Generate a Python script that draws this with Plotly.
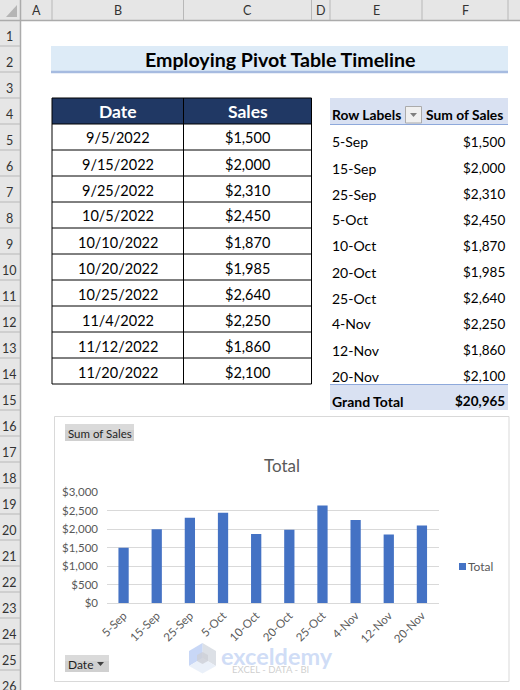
import plotly.graph_objects as go

W, H = 520, 690

dates = ["9/5/2022", "9/15/2022", "9/25/2022", "10/5/2022", "10/10/2022",
         "10/20/2022", "10/25/2022", "11/4/2022", "11/12/2022", "11/20/2022"]
row_labels = ["5-Sep", "15-Sep", "25-Sep", "5-Oct", "10-Oct",
              "20-Oct", "25-Oct", "4-Nov", "12-Nov", "20-Nov"]
sales = [1500, 2000, 2310, 2450, 1870, 1985, 2640, 2250, 1860, 2100]
grand_total = 20965
y_ticks = [0, 500, 1000, 1500, 2000, 2500, 3000]

col_names = ["A", "B", "C", "D", "E", "F"]
col_edges = [20, 52, 183.5, 311.5, 330, 422, 508]
row_h = 26
row_top = 20

FONT = "Lato, Carlito, Calibri, sans-serif"
GREY_TXT = "#595959"

shapes = []
notes = []


def fx(px):
    return px / W


def fy(px):
    return 1 - px / H


def rect(x0, y0, x1, y1, fill=None, line=None, width=1, layer="below"):
    shapes.append(dict(
        type="rect", xref="paper", yref="paper",
        x0=fx(x0), x1=fx(x1), y0=fy(y0), y1=fy(y1),
        fillcolor=fill or "rgba(0,0,0,0)",
        line=dict(color=line or "rgba(0,0,0,0)", width=width if line else 0),
        layer=layer,
    ))


def seg(x0, y0, x1, y1, color, width=1, layer="below"):
    shapes.append(dict(
        type="line", xref="paper", yref="paper",
        x0=fx(x0), x1=fx(x1), y0=fy(y0), y1=fy(y1),
        line=dict(color=color, width=width), layer=layer,
    ))


def poly(points, fill, layer="below"):
    path = "M " + " L ".join(f"{fx(a):.5f},{fy(b):.5f}" for a, b in points) + " Z"
    shapes.append(dict(
        type="path", xref="paper", yref="paper", path=path,
        fillcolor=fill, line=dict(width=0), layer=layer,
    ))


def text(x, y, s, size=14, color="#000000", bold=False, anchor="center", family=FONT):
    # annotations carry a little padding, so pull edge-aligned text back onto x
    if anchor == "left":
        x -= 3
    elif anchor == "right":
        x += 2
    notes.append(dict(
        xref="paper", yref="paper", x=fx(x), y=fy(y),
        text=f"<b>{s}</b>" if bold else s,
        showarrow=False, xanchor=anchor, yanchor="middle",
        font=dict(family=family, size=size, color=color),
    ))


# sheet headers
rect(0, 0, W, row_top, fill="#E6E6E6")
rect(0, 0, row_top, H, fill="#E6E6E6")
seg(0, 20.5, W, 20.5, "#ABABAB", 1.5)
seg(20.5, 0, 20.5, H, "#ABABAB", 1.5)
poly([(17, 5), (17, 17), (6, 17)], "#B5B5B5")
for i, name in enumerate(col_names):
    text((col_edges[i] + col_edges[i + 1]) / 2, 10.5, name, size=12.5, color="#333333")
    seg(col_edges[i + 1], 0, col_edges[i + 1], 20, "#B8B8B8")
for r in range(1, 27):
    top = row_top + (r - 1) * row_h
    text(9, top + 16.5, str(r), size=12.5, color="#333333")
    seg(0, top + row_h, 20, top + row_h, "#B8B8B8")

# title band
rect(51, 46, 508, 71, fill="#DDEBF7")
seg(51, 72, 508, 72, "#A6BBE0", 2.5)
text(279.5, 59.5, "Employing Pivot Table Timeline", size=19.6, bold=True)

# source table
t_left, t_mid, t_right = col_edges[1], col_edges[2], col_edges[3]
rect(t_left, 98, t_right, 124, fill="#203864")
text((t_left + t_mid) / 2, 112, "Date", size=17.5, color="#FFFFFF", bold=True)
text((t_mid + t_right) / 2, 112, "Sales", size=17.5, color="#FFFFFF", bold=True)
for i, (d, v) in enumerate(zip(dates, sales)):
    mid_y = 138 + i * row_h
    text((t_left + t_mid) / 2, mid_y, d, size=14.5)
    text((t_mid + t_right) / 2, mid_y, f"${v:,}", size=14.5)
for i in range(12):
    seg(t_left, 98 + i * row_h, t_right, 98 + i * row_h, "#000000")
for x in (t_left, t_mid, t_right):
    seg(x, 98, x, 384, "#000000")

# pivot table
rect(330, 98, 508, 124, fill="#D9E1F2")
seg(330, 124.5, 508, 124.5, "#8EA9DB")
text(333, 115, "Row Labels", size=13.8, bold=True, anchor="left")
text(503, 115, "Sum of Sales", size=13.8, bold=True, anchor="right")
rect(405.5, 106.5, 421.5, 123, fill="#F0F0F0", line="#ABABAB")
poly([(410, 113), (417, 113), (413.5, 117)], "#7F7F7F")
for i, (lab, v) in enumerate(zip(row_labels, sales)):
    mid_y = 142 + i * row_h
    text(333, mid_y, lab, size=14, anchor="left")
    text(505, mid_y, f"${v:,}", size=13.5, anchor="right")
rect(330, 384, 508, 410, fill="#D9E1F2")
seg(330, 384.5, 508, 384.5, "#8EA9DB")
text(333, 401, "Grand Total", size=14, bold=True, anchor="left")
text(505, 401, f"${grand_total:,}", size=13.5, bold=True, anchor="right")

# chart frame and field buttons
rect(54.5, 416.5, 509, 681.5, fill="#FFFFFF", line="#D9D9D9")
rect(65, 424, 134, 441, fill="#D0D0D0")
rect(65, 424, 134, 430, fill="#DADADA")
text(99.5, 433, "Sum of Sales", size=11.5, color="#1F1F1F")
rect(65, 655, 109, 672, fill="#D0D0D0")
rect(65, 655, 109, 661, fill="#DADADA")
text(68.5, 664, "Date", size=12, color="#1F1F1F", anchor="left")
poly([(97, 662), (104, 662), (100.5, 666)], "#404040")
text(281.5, 465, "Total", size=17, color=GREY_TXT)

# legend
rect(459, 563, 466, 570, fill="#4472C4")
text(469, 566.5, "Total", size=12, color=GREY_TXT, anchor="left")

# watermark
poly([(202.5, 643), (216, 651), (216, 666), (202.5, 658), (202.5, 658)], "rgba(214,218,226,0.85)", layer="above")
poly([(202.5, 643), (189, 651), (189, 666), (202.5, 658)], "rgba(190,208,245,0.85)", layer="above")
poly([(189, 666), (202.5, 658), (216, 666), (202.5, 673.5)], "rgba(232,238,248,0.9)", layer="above")
poly([(202.5, 652), (208, 655), (208, 661), (202.5, 664), (197, 661), (197, 655)], "rgba(205,208,215,0.8)", layer="above")
text(222, 655.5, "exceldemy", size=23.5, color="rgba(200,215,245,0.85)", bold=True, anchor="left")
text(233, 669, "EXCEL - DATA - BI", size=9.5, color="rgba(190,190,190,0.75)", anchor="left")

fig = go.Figure(go.Bar(
    x=row_labels, y=sales, name="Total",
    marker=dict(color="#4472C4", line=dict(width=0)),
    width=0.31, showlegend=False,
))
fig.update_layout(
    width=W, height=H,
    margin=dict(l=0, r=0, t=0, b=0),
    paper_bgcolor="#FFFFFF", plot_bgcolor="rgba(0,0,0,0)",
    font=dict(family=FONT, size=12, color=GREY_TXT),
    shapes=shapes, annotations=notes,
    xaxis=dict(
        domain=[fx(107), fx(438.5)], type="category", automargin=False,
        tickangle=-45, ticks="", showgrid=False,
        showline=True, linecolor="#D9D9D9", linewidth=1.3,
        tickfont=dict(size=11.5, color=GREY_TXT),
    ),
    yaxis=dict(
        domain=[fy(603.3), fy(492.3)], range=[0, 3000], automargin=False,
        tickvals=y_ticks, tickformat="$,d", ticks="", ticklabelstandoff=8,
        showgrid=True, gridcolor="#D9D9D9", gridwidth=1.3, zeroline=False,
        tickfont=dict(size=11.5, color=GREY_TXT),
    ),
)
fig.write_html(
    "out.html",
    config={"displayModeBar": False},
    post_script="document.body.style.margin='0';",
)
